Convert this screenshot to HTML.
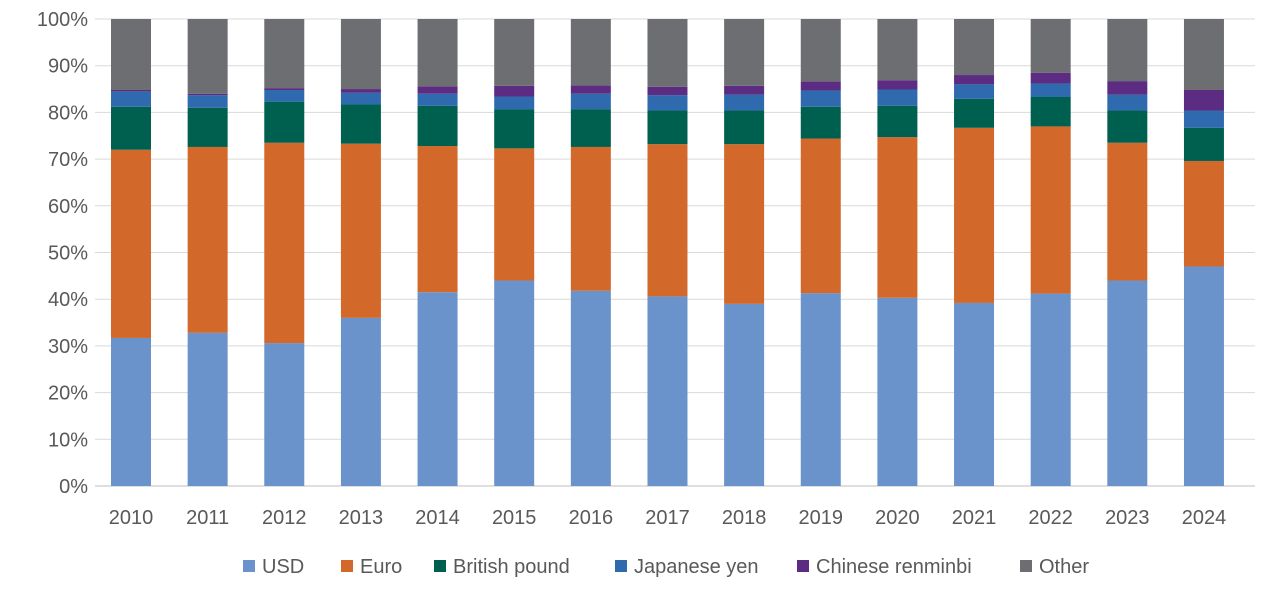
<!DOCTYPE html>
<html><head><meta charset="utf-8"><style>
body{margin:0;background:#fff;}
svg{display:block;font-family:"Liberation Sans",sans-serif;}
</style></head><body>
<svg id="c" width="1280" height="604" xmlns="http://www.w3.org/2000/svg"></svg>
<script>
const s=document.getElementById('c');
const ns='http://www.w3.org/2000/svg';
function el(t,a,txt){const e=document.createElementNS(ns,t);for(const k in a)e.setAttribute(k,a[k]);if(txt!==undefined)e.textContent=txt;s.appendChild(e);return e;}
const y0=486,ppp=4.67,L=95,R=1255;
for(let i=0;i<=10;i++){const y=y0-i*10*ppp;
 el('line',{x1:L,x2:R,y1:y,y2:y,stroke:i==0?'#bfbfbf':'#d9d9d9','stroke-width':1});
 el('text',{x:88,y:y+7,'text-anchor':'end','font-size':20,fill:'#595959'},(i*10)+'%');}
const d=[[31.7,72,81.2,84.5,84.8],[32.8,72.6,81,83.7,84],[30.6,73.5,82.3,84.8,85.2],[36,73.3,81.7,84.2,85],[41.5,72.8,81.4,84,85.6],[44,72.3,80.7,83.4,85.7],[41.8,72.6,80.7,84,85.8],[40.6,73.2,80.4,83.7,85.5],[39,73.2,80.4,83.8,85.7],[41.3,74.4,81.2,84.7,86.6],[40.3,74.7,81.4,84.9,86.9],[39.2,76.7,82.9,86,88],[41.2,77,83.3,86.2,88.5],[44,73.5,80.4,83.8,86.7],[47,69.6,76.7,80.4,84.8]];
const col=['#6a93cc','#d2692a','#00604f','#2e6aad','#5b2c82','#6d6e71'];
d.forEach((r,i)=>{const cx=131+i*76.64;const v=[0,...r,100];
 for(let k=0;k<6;k++){const ya=y0-v[k+1]*ppp,yb=y0-v[k]*ppp;
  el('rect',{x:cx-20,y:ya,width:40,height:yb-ya,fill:col[k]});}
 el('text',{x:cx,y:524,'text-anchor':'middle','font-size':20,fill:'#595959'},2010+i);});
const lg=[['USD',243],['Euro',341],['British pound',434],['Japanese yen',615],['Chinese renminbi',797],['Other',1020]];
lg.forEach((g,k)=>{el('rect',{x:g[1],y:560,width:12,height:12,fill:col[k]});
 el('text',{x:g[1]+19,y:573,'font-size':20,fill:'#595959'},g[0]);});
</script>
</body></html>
